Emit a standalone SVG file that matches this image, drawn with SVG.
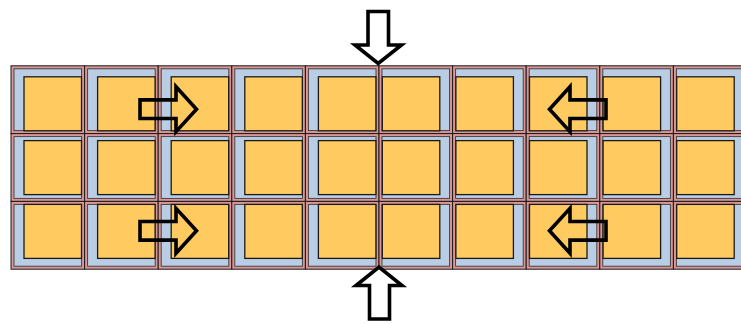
<svg xmlns="http://www.w3.org/2000/svg" width="741" height="324" viewBox="0 0 741 324">
<style>
.frame{fill:#d99694;stroke:#1a1a1a;stroke-width:1}
.inner{fill:#b9cde5;stroke:#3a3a3a;stroke-width:0.9}
.sq{fill:#ffca60;stroke:#1a1a1a;stroke-width:1.3}
.arrow{fill:none;stroke:#000;stroke-width:3.6;stroke-linejoin:miter;stroke-miterlimit:10}
.varrow{fill:#fff;stroke:#000;stroke-width:3.6;stroke-linejoin:miter;stroke-miterlimit:10}
</style>
<rect width="741" height="324" fill="#fff"/>
<g id="cells">
<g id="cell-r1c1"><rect class="frame" x="11" y="65.8" width="73.6" height="67.8"/><rect class="inner" x="14" y="68.8" width="67.6" height="61.8"/><rect class="sq" x="24" y="76.8" width="57.5" height="54"/></g>
<g id="cell-r1c2"><rect class="frame" x="84.6" y="65.8" width="73.6" height="67.8"/><rect class="inner" x="87.6" y="68.8" width="67.6" height="61.8"/><rect class="sq" x="97.6" y="76.8" width="57.5" height="54"/></g>
<g id="cell-r1c3"><rect class="frame" x="158.2" y="65.8" width="73.6" height="67.8"/><rect class="inner" x="161.2" y="68.8" width="67.6" height="61.8"/><rect class="sq" x="171.2" y="76.8" width="57.5" height="54"/></g>
<g id="cell-r1c4"><rect class="frame" x="231.8" y="65.8" width="73.6" height="67.8"/><rect class="inner" x="234.8" y="68.8" width="67.6" height="61.8"/><rect class="sq" x="244.8" y="76.8" width="57.5" height="54"/></g>
<g id="cell-r1c5"><rect class="frame" x="305.4" y="65.8" width="73.6" height="67.8"/><rect class="inner" x="308.4" y="68.8" width="67.6" height="61.8"/><rect class="sq" x="318.4" y="76.8" width="57.5" height="54"/></g>
<g id="cell-r1c6"><rect class="frame" x="379" y="65.8" width="73.6" height="67.8"/><rect class="inner" x="382" y="68.8" width="67.6" height="61.8"/><rect class="sq" x="382.3" y="76.8" width="57.5" height="54"/></g>
<g id="cell-r1c7"><rect class="frame" x="452.6" y="65.8" width="73.6" height="67.8"/><rect class="inner" x="455.6" y="68.8" width="67.6" height="61.8"/><rect class="sq" x="455.9" y="76.8" width="57.5" height="54"/></g>
<g id="cell-r1c8"><rect class="frame" x="526.2" y="65.8" width="73.6" height="67.8"/><rect class="inner" x="529.2" y="68.8" width="67.6" height="61.8"/><rect class="sq" x="529.5" y="76.8" width="57.5" height="54"/></g>
<g id="cell-r1c9"><rect class="frame" x="599.8" y="65.8" width="73.6" height="67.8"/><rect class="inner" x="602.8" y="68.8" width="67.6" height="61.8"/><rect class="sq" x="603.1" y="76.8" width="57.5" height="54"/></g>
<g id="cell-r1c10"><rect class="frame" x="673.4" y="65.8" width="73.6" height="67.8"/><rect class="inner" x="676.4" y="68.8" width="67.6" height="61.8"/><rect class="sq" x="676.7" y="76.8" width="57.5" height="54"/></g>

<g id="cell-r2c1"><rect class="frame" x="11" y="133.6" width="73.6" height="67.8"/><rect class="inner" x="14" y="136.6" width="67.6" height="61.8"/><rect class="sq" x="24" y="140.6" width="57.5" height="54"/></g>
<g id="cell-r2c2"><rect class="frame" x="84.6" y="133.6" width="73.6" height="67.8"/><rect class="inner" x="87.6" y="136.6" width="67.6" height="61.8"/><rect class="sq" x="97.6" y="140.6" width="57.5" height="54"/></g>
<g id="cell-r2c3"><rect class="frame" x="158.2" y="133.6" width="73.6" height="67.8"/><rect class="inner" x="161.2" y="136.6" width="67.6" height="61.8"/><rect class="sq" x="171.2" y="140.6" width="57.5" height="54"/></g>
<g id="cell-r2c4"><rect class="frame" x="231.8" y="133.6" width="73.6" height="67.8"/><rect class="inner" x="234.8" y="136.6" width="67.6" height="61.8"/><rect class="sq" x="244.8" y="140.6" width="57.5" height="54"/></g>
<g id="cell-r2c5"><rect class="frame" x="305.4" y="133.6" width="73.6" height="67.8"/><rect class="inner" x="308.4" y="136.6" width="67.6" height="61.8"/><rect class="sq" x="318.4" y="140.6" width="57.5" height="54"/></g>
<g id="cell-r2c6"><rect class="frame" x="379" y="133.6" width="73.6" height="67.8"/><rect class="inner" x="382" y="136.6" width="67.6" height="61.8"/><rect class="sq" x="382.3" y="140.6" width="57.5" height="54"/></g>
<g id="cell-r2c7"><rect class="frame" x="452.6" y="133.6" width="73.6" height="67.8"/><rect class="inner" x="455.6" y="136.6" width="67.6" height="61.8"/><rect class="sq" x="455.9" y="140.6" width="57.5" height="54"/></g>
<g id="cell-r2c8"><rect class="frame" x="526.2" y="133.6" width="73.6" height="67.8"/><rect class="inner" x="529.2" y="136.6" width="67.6" height="61.8"/><rect class="sq" x="529.5" y="140.6" width="57.5" height="54"/></g>
<g id="cell-r2c9"><rect class="frame" x="599.8" y="133.6" width="73.6" height="67.8"/><rect class="inner" x="602.8" y="136.6" width="67.6" height="61.8"/><rect class="sq" x="603.1" y="140.6" width="57.5" height="54"/></g>
<g id="cell-r2c10"><rect class="frame" x="673.4" y="133.6" width="73.6" height="67.8"/><rect class="inner" x="676.4" y="136.6" width="67.6" height="61.8"/><rect class="sq" x="676.7" y="140.6" width="57.5" height="54"/></g>

<g id="cell-r3c1"><rect class="frame" x="11" y="201.4" width="73.6" height="67.8"/><rect class="inner" x="14" y="204.4" width="67.6" height="61.8"/><rect class="sq" x="24" y="204.4" width="57.5" height="54"/></g>
<g id="cell-r3c2"><rect class="frame" x="84.6" y="201.4" width="73.6" height="67.8"/><rect class="inner" x="87.6" y="204.4" width="67.6" height="61.8"/><rect class="sq" x="97.6" y="204.4" width="57.5" height="54"/></g>
<g id="cell-r3c3"><rect class="frame" x="158.2" y="201.4" width="73.6" height="67.8"/><rect class="inner" x="161.2" y="204.4" width="67.6" height="61.8"/><rect class="sq" x="171.2" y="204.4" width="57.5" height="54"/></g>
<g id="cell-r3c4"><rect class="frame" x="231.8" y="201.4" width="73.6" height="67.8"/><rect class="inner" x="234.8" y="204.4" width="67.6" height="61.8"/><rect class="sq" x="244.8" y="204.4" width="57.5" height="54"/></g>
<g id="cell-r3c5"><rect class="frame" x="305.4" y="201.4" width="73.6" height="67.8"/><rect class="inner" x="308.4" y="204.4" width="67.6" height="61.8"/><rect class="sq" x="318.4" y="204.4" width="57.5" height="54"/></g>
<g id="cell-r3c6"><rect class="frame" x="379" y="201.4" width="73.6" height="67.8"/><rect class="inner" x="382" y="204.4" width="67.6" height="61.8"/><rect class="sq" x="382.3" y="204.4" width="57.5" height="54"/></g>
<g id="cell-r3c7"><rect class="frame" x="452.6" y="201.4" width="73.6" height="67.8"/><rect class="inner" x="455.6" y="204.4" width="67.6" height="61.8"/><rect class="sq" x="455.9" y="204.4" width="57.5" height="54"/></g>
<g id="cell-r3c8"><rect class="frame" x="526.2" y="201.4" width="73.6" height="67.8"/><rect class="inner" x="529.2" y="204.4" width="67.6" height="61.8"/><rect class="sq" x="529.5" y="204.4" width="57.5" height="54"/></g>
<g id="cell-r3c9"><rect class="frame" x="599.8" y="201.4" width="73.6" height="67.8"/><rect class="inner" x="602.8" y="204.4" width="67.6" height="61.8"/><rect class="sq" x="603.1" y="204.4" width="57.5" height="54"/></g>
<g id="cell-r3c10"><rect class="frame" x="673.4" y="201.4" width="73.6" height="67.8"/><rect class="inner" x="676.4" y="204.4" width="67.6" height="61.8"/><rect class="sq" x="676.7" y="204.4" width="57.5" height="54"/></g>
</g>
<g id="arrows">
<polygon class="varrow" points="368,11.5 388.5,11.5 388.5,45 401.5,45 378.2,63.5 355,45 368,45"/>
<polygon class="varrow" points="369.5,319 389.5,319 389.5,285.5 402,285.5 379,267 356,285.5 369.5,285.5"/>
<polygon class="arrow" points="140,99.9 176,99.9 176,86.7 196.5,109.2 176,131.7 176,118.5 140,118.5"/>
<polygon class="arrow" points="140,221.5 176,221.5 176,208.3 196.5,230.8 176,253.3 176,240.1 140,240.1"/>
<polygon class="arrow" points="606,99.9 570,99.9 570,86.7 549.5,109.2 570,131.7 570,118.5 606,118.5"/>
<polygon class="arrow" points="606,221.5 570,221.5 570,208.3 549.5,230.8 570,253.3 570,240.1 606,240.1"/>
</g>
</svg>
